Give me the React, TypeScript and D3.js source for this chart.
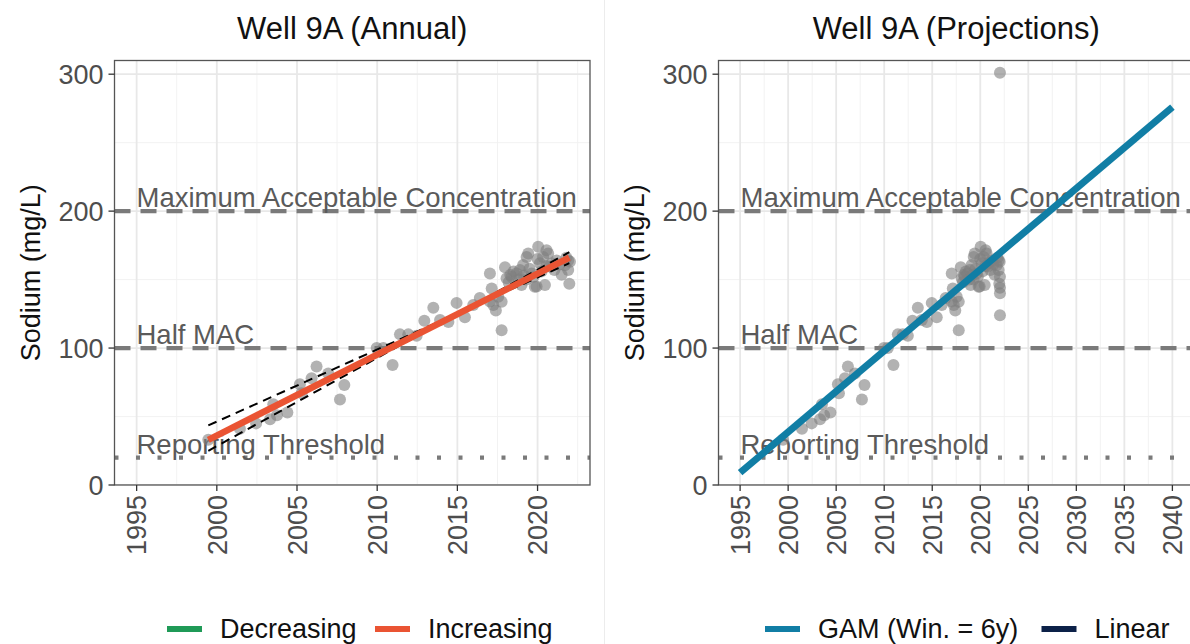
import React from "react";
import * as d3 from "d3";

// ---------- data ----------
const obsYears = [
  1999.47, 2001.44, 2002.45, 2003.32, 2003.52, 2003.75, 2004.4, 2005.18, 2005.29, 2005.91,
  2006.22, 2006.95, 2007.68, 2007.95, 2009.97, 2010.38, 2010.96, 2011.42, 2011.94, 2012.46,
  2012.94, 2013.5, 2013.92, 2014.44, 2014.95, 2015.47, 2015.99, 2016.4, 2017.03, 2017.03,
  2017.14, 2017.24, 2017.4, 2017.55, 2017.76, 2017.76, 2017.97, 2018.07, 2018.2, 2018.3,
  2018.38, 2018.5, 2018.69, 2018.85, 2018.9, 2019.0, 2019.1, 2019.15, 2019.3, 2019.32,
  2019.42, 2019.5, 2019.63, 2019.75, 2019.83, 2019.94, 2020.0, 2020.04, 2020.15, 2020.25,
  2020.35, 2020.46, 2020.55, 2020.56, 2020.66, 2020.77, 2020.9, 2021.05, 2021.19, 2021.35,
  2021.5, 2021.7, 2021.8, 2021.91, 2021.91, 2021.98, 2022.02,
];
const obsValues = [
  33, 41, 45, 48, 59, 51, 53, 73.5, 67, 78,
  86.5, 81.5, 62.5, 73, 100, 100, 87.6, 110, 110, 109,
  120, 129.5, 120.5, 119, 133, 122.5, 131.5, 136.5, 154.5, 134,
  143.5, 131.5, 127.5, 137.5, 113, 133.8, 159, 151, 148, 153.3,
  152, 156, 154.5, 150, 157, 146, 160.6, 153, 150, 166.5,
  169, 158, 154.5, 152, 144.7, 145, 165, 174, 162, 156,
  166.5, 146, 160, 171.5, 169, 159.5, 162, 157, 164, 161,
  153.5, 160.5, 166, 164, 157, 147, 163,
];
// additional samples shown only in the projection panel
const projExtraYears = [2022.05, 2022.05, 2022.05, 2022.05, 2022.05];
const projExtraValues = [301, 124, 140, 144, 152];

// trend (annual panel)
const trendYears = [1999.47, 2021.98];
const trendFit = [33, 166];
const trendUpper = [43.5, 162];
const trendLower = [25, 170];

// projection (GAM)
const gamYears = [1995, 2040];
const gamValues = [9, 276];

// reference levels
const refLevels = [200, 100, 20];
const refLabels = ["Maximum Acceptable Concentration", "Half MAC", "Reporting Threshold"];
const refDash = ["16 10", "16 10", "4 17.5"];

const yTicks = [0, 100, 200, 300];
const yMinor = [50, 150, 250];
const leftXTicks = [1995, 2000, 2005, 2010, 2015, 2020];
const leftXMinor = [1997.5, 2002.5, 2007.5, 2012.5, 2017.5, 2022.5];
const rightXTicks = [1995, 2000, 2005, 2010, 2015, 2020, 2025, 2030, 2035, 2040];
const rightXMinor = [1997.5, 2002.5, 2007.5, 2012.5, 2017.5, 2022.5, 2027.5, 2032.5, 2037.5, 2042.5];

const leftLegend = ["Decreasing", "Increasing"];
const leftLegendColors = ["#1f9a57", "#ea5433"];
const rightLegend = ["GAM (Win. = 6y)", "Linear"];
const rightLegendColors = ["#117ea5", "#0c2148"];

// ---------- layout ----------
const W = 1190;
const H = 644;
const FONT = "'Liberation Sans', Arial, Helvetica, sans-serif";
const TOP = 60.5;
const BOTTOM = 485;

const yScale = d3.scaleLinear().domain([0, 310]).range([BOTTOM, TOP]);

type PanelProps = {
  x0: number;
  x1: number;
  domain: [number, number];
  ticks: number[];
  minor: number[];
  title: string;
  children: (x: d3.ScaleLinear<number, number>) => React.ReactNode;
};

function Panel({ x0, x1, domain, ticks, minor, title, children }: PanelProps) {
  const x = d3.scaleLinear().domain(domain).range([x0, x1]);
  const clipId = "clip" + Math.round(x0);
  return (
    <g>
      <defs>
        <clipPath id={clipId}>
          <rect x={x0} y={TOP} width={x1 - x0} height={BOTTOM - TOP} />
        </clipPath>
      </defs>
      <rect x={x0} y={TOP} width={x1 - x0} height={BOTTOM - TOP} fill="#fff" />
      <g clipPath={`url(#${clipId})`}>
        {yMinor.map((v) => (
          <line key={"ym" + v} x1={x0} x2={x1} y1={yScale(v)} y2={yScale(v)} stroke="#f0f0f0" strokeWidth={0.9} />
        ))}
        {minor.map((v) => (
          <line key={"xm" + v} y1={TOP} y2={BOTTOM} x1={x(v)} x2={x(v)} stroke="#f0f0f0" strokeWidth={0.9} />
        ))}
        {yTicks.map((v) => (
          <line key={"yg" + v} x1={x0} x2={x1} y1={yScale(v)} y2={yScale(v)} stroke="#e8e8e8" strokeWidth={1.8} />
        ))}
        {ticks.map((v) => (
          <line key={"xg" + v} y1={TOP} y2={BOTTOM} x1={x(v)} x2={x(v)} stroke="#e8e8e8" strokeWidth={1.8} />
        ))}
        {refLevels.map((v, i) => (
          <line
            key={"ref" + v}
            x1={x0}
            x2={x1}
            y1={yScale(v)}
            y2={yScale(v)}
            stroke="#7a7a7a"
            strokeWidth={4.2}
            strokeDasharray={refDash[i]}
          />
        ))}
        {refLevels.map((v, i) => (
          <text
            key={"rl" + v}
            x={x0 + 22}
            y={yScale(v) - 4}
            fontFamily={FONT}
            fontSize={27.5}
            fill="#5a5a5a"
          >
            {refLabels[i]}
          </text>
        ))}
        {children(x)}
      </g>
      <rect x={x0} y={TOP} width={x1 - x0} height={BOTTOM - TOP} fill="none" stroke="#555" strokeWidth={1.3} />
      {yTicks.map((v) => (
        <g key={"yt" + v}>
          <line x1={x0 - 6} x2={x0} y1={yScale(v)} y2={yScale(v)} stroke="#333" strokeWidth={1.3} />
          <text
            x={x0 - 11}
            y={yScale(v)}
            dy="0.36em"
            textAnchor="end"
            fontFamily={FONT}
            fontSize={27}
            fill="#4d4d4d"
          >
            {v}
          </text>
        </g>
      ))}
      {ticks.map((v) => (
        <g key={"xt" + v}>
          <line x1={x(v)} x2={x(v)} y1={BOTTOM} y2={BOTTOM + 6} stroke="#333" strokeWidth={1.3} />
          <text
            transform={`translate(${x(v)},${BOTTOM + 10}) rotate(-90)`}
            dy="0.36em"
            textAnchor="end"
            fontFamily={FONT}
            fontSize={27}
            fill="#4d4d4d"
          >
            {v}
          </text>
        </g>
      ))}
      <text x={(x0 + x1) / 2} y={39} textAnchor="middle" fontFamily={FONT} fontSize={31} fill="#111">
        {title}
      </text>
      <text
        transform={`translate(${x0 - 75},${(TOP + BOTTOM) / 2}) rotate(-90)`}
        textAnchor="middle"
        fontFamily={FONT}
        fontSize={27}
        fill="#111"
      >
        Sodium (mg/L)
      </text>
    </g>
  );
}

function Legend({ x, labels, colors }: { x: number; labels: string[]; colors: string[] }) {
  const items: { lx: number; label: string; color: string }[] = [];
  let cx = x;
  labels.forEach((label, i) => {
    items.push({ lx: cx, label, color: colors[i] });
    cx += 36 + 17 + label.length * 13.7 + 18;
  });
  return (
    <g>
      {items.map((it) => (
        <g key={it.label}>
          <line x1={it.lx} x2={it.lx + 35} y1={629} y2={629} stroke={it.color} strokeWidth={6} />
          <text x={it.lx + 53} y={638} fontFamily={FONT} fontSize={27} fill="#111">
            {it.label}
          </text>
        </g>
      ))}
    </g>
  );
}

export default function App() {
  const line = (x: d3.ScaleLinear<number, number>, xs: number[], ys: number[]) =>
    d3.line<number>().x((_, i) => x(xs[i])).y((v) => yScale(v))(ys) || "";
  const projYears = obsYears.concat(projExtraYears);
  const projValues = obsValues.concat(projExtraValues);
  return (
    <svg
      width={W}
      height={H}
      viewBox={`0 0 ${W} ${H}`}
      style={{ position: "absolute", left: 0, top: 0, background: "#fff" }}
    >
      <rect width={W} height={H} fill="#fff" />
      <line x1={604.5} x2={604.5} y1={0} y2={H} stroke="#ececec" strokeWidth={1} />
      <Panel
        x0={114.5}
        x1={590}
        domain={[1993.62, 2023.27]}
        ticks={leftXTicks}
        minor={leftXMinor}
        title="Well 9A (Annual)"
      >
        {(x) => (
          <g>
            {obsYears.map((yr, i) => (
              <circle key={i} cx={x(yr)} cy={yScale(obsValues[i])} r={6} fill="#7f7f7f" fillOpacity={0.6} />
            ))}
            <path d={line(x, trendYears, trendUpper)} fill="none" stroke="#000" strokeWidth={2} strokeDasharray="9 6" />
            <path d={line(x, trendYears, trendLower)} fill="none" stroke="#000" strokeWidth={2} strokeDasharray="9 6" />
            <path d={line(x, trendYears, trendFit)} fill="none" stroke={leftLegendColors[1]} strokeWidth={6.5} />
          </g>
        )}
      </Panel>
      <Panel
        x0={718.5}
        x1={1194}
        domain={[1992.75, 2042.25]}
        ticks={rightXTicks}
        minor={rightXMinor}
        title="Well 9A (Projections)"
      >
        {(x) => (
          <g>
            {projYears.map((yr, i) => (
              <circle key={i} cx={x(yr)} cy={yScale(projValues[i])} r={6} fill="#7f7f7f" fillOpacity={0.6} />
            ))}
            <path d={line(x, gamYears, gamValues)} fill="none" stroke={rightLegendColors[0]} strokeWidth={7} />
          </g>
        )}
      </Panel>
      <Legend x={167} labels={leftLegend} colors={leftLegendColors} />
      <Legend x={765} labels={rightLegend} colors={rightLegendColors} />
    </svg>
  );
}
